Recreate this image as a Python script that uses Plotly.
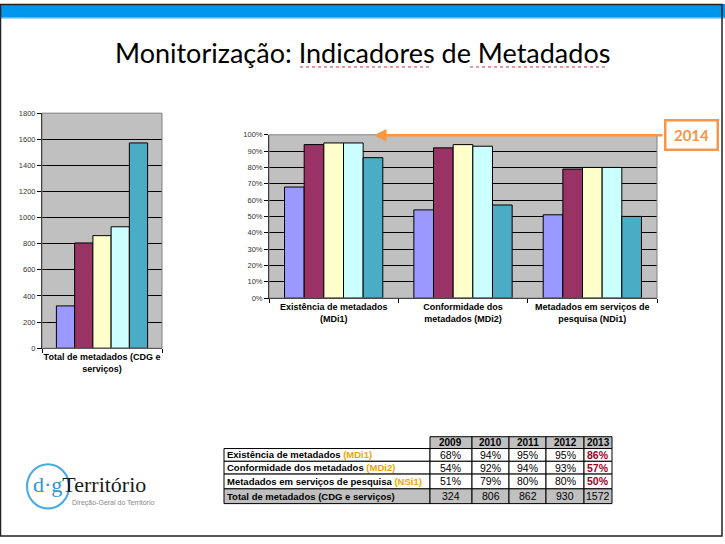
import plotly.graph_objects as go

W, H = 725, 544

years = ["2009", "2010", "2011", "2012", "2013"]
year_colors = ["#9999FF", "#993366", "#FFFFCC", "#CCFFFF", "#4BACC6"]

total_category = ["Total de metadados (CDG e<br>serviços)"]
total_values = [324, 806, 862, 930, 1572]

indicator_categories = [
    "Existência de metadados<br>(MDi1)",
    "Conformidade dos<br>metadados (MDi2)",
    "Metadados em serviços de<br>pesquisa (NDi1)",
]
indicator_values = {
    "2009": [68, 54, 51],
    "2010": [94, 92, 79],
    "2011": [95, 94, 80],
    "2012": [95, 93, 80],
    "2013": [86, 57, 50],
}

table_labels = [
    "Existência de metadados",
    "Conformidade dos metadados",
    "Metadados em serviços de pesquisa",
    "Total de metadados (CDG e serviços)",
]
table_codes = ["(MDi1)", "(MDi2)", "(NSi1)", ""]
table_values = {
    "2009": ["68%", "54%", "51%", "324"],
    "2010": ["94%", "92%", "79%", "806"],
    "2011": ["95%", "94%", "80%", "862"],
    "2012": ["95%", "93%", "80%", "930"],
    "2013": ["86%", "57%", "50%", "1572"],
}

ARIAL = "Liberation Sans, Arial, sans-serif"
ORANGE = "#F79646"

# table layout (pixels)
TABLE_X0, TABLE_Y0 = 224, 440
COL_W = [206, 42, 37, 37, 38, 28]
ROW_H = [12, 13, 13, 15, 15]


def px(x):
    return x / W


def py(y):
    return 1 - y / H


fig = go.Figure()

for i, yr in enumerate(years):
    fig.add_trace(go.Bar(
        x=total_category, y=[total_values[i]], name=yr,
        marker=dict(color=year_colors[i], line=dict(color="black", width=1)),
        xaxis="x", yaxis="y", showlegend=False, hoverinfo="skip"))
for i, yr in enumerate(years):
    fig.add_trace(go.Bar(
        x=indicator_categories, y=indicator_values[yr], name=yr,
        marker=dict(color=year_colors[i], line=dict(color="black", width=1)),
        xaxis="x2", yaxis="y2", showlegend=False, hoverinfo="skip"))

axis_common = dict(showline=True, linecolor="black", linewidth=1, ticks="outside",
                   ticklen=4, tickcolor="black", zeroline=False)

fig.update_layout(
    width=W, height=H,
    margin=dict(l=0, r=0, t=0, b=0),
    paper_bgcolor="white",
    plot_bgcolor="#C0C0C0",
    barmode="group", bargap=0.24, bargroupgap=0,
    showlegend=False,
    xaxis=dict(domain=[px(42), px(162)], anchor="y", tickson="boundaries", tickangle=0,
               tickfont=dict(family=ARIAL, size=9, color="black", weight="bold"),
               **axis_common),
    yaxis=dict(domain=[py(350), py(111)], anchor="x", range=[0, 1800], dtick=200,
               showgrid=True, gridcolor="black", gridwidth=1,
               tickfont=dict(family=ARIAL, size=7.5, color="#333333"), **axis_common),
    xaxis2=dict(domain=[px(269), px(657)], anchor="y2", tickson="boundaries", tickangle=0,
                tickfont=dict(family=ARIAL, size=9, color="black", weight="bold"),
                **axis_common),
    yaxis2=dict(domain=[py(299), py(133)], anchor="x2", range=[0, 100], dtick=10,
                ticksuffix="%", showgrid=True, gridcolor="black", gridwidth=1,
                tickfont=dict(family=ARIAL, size=7.5, color="#333333"), **axis_common),
)

shapes = [
    # top blue band
    dict(type="rect", xref="paper", yref="paper", x0=0, x1=1, y0=py(14), y1=1,
         fillcolor="#0096EC", line=dict(width=0), layer="below"),
    dict(type="line", xref="paper", yref="paper", x0=0, x1=1, y0=py(14.5), y1=py(14.5),
         line=dict(color="#8FCDF2", width=1)),
    # slide border
    dict(type="rect", xref="paper", yref="paper", x0=px(0.5), x1=px(722), y0=py(541), y1=py(0.5),
         line=dict(color="#222222", width=1.5)),
    # plot area borders
    dict(type="rect", xref="x domain", yref="y domain", x0=0, x1=1, y0=0, y1=1,
         line=dict(color="#808080", width=1)),
    dict(type="rect", xref="x2 domain", yref="y2 domain", x0=0, x1=1, y0=0, y1=1,
         line=dict(color="#808080", width=1)),
    # spell-check squiggles under title
    dict(type="line", xref="paper", yref="paper", x0=px(300), x1=px(432), y0=py(64), y1=py(64),
         line=dict(color="#D03030", width=1, dash="dot")),
    dict(type="line", xref="paper", yref="paper", x0=px(470), x1=px(606), y0=py(64), y1=py(64),
         line=dict(color="#D03030", width=1, dash="dot")),
    # logo circle
    dict(type="circle", xref="paper", yref="paper", x0=px(27), x1=px(69), y0=py(513), y1=py(468),
         line=dict(color="#45A9E2", width=2), fillcolor="white"),
]

annotations = [
    dict(text="Monitorização: Indicadores de Metadados", x=px(362), y=py(49),
         xref="paper", yref="paper", showarrow=False, xanchor="center", yanchor="middle",
         font=dict(family="Lato, Open Sans, sans-serif", size=27, color="black")),
    # orange arrow
    dict(text="", x=px(374), y=py(133.5), xref="paper", yref="paper",
         ax=290, ay=0, axref="pixel", ayref="pixel",
         showarrow=True, arrowhead=2, arrowsize=1, arrowwidth=2.5, arrowcolor=ORANGE),
    dict(text="<b>2014</b>", x=px(691), y=py(133), xref="paper", yref="paper",
         showarrow=False, xanchor="center", yanchor="middle", width=48, height=25,
         bordercolor=ORANGE, borderwidth=2.5, borderpad=1, bgcolor="white",
         font=dict(family="Lato, Open Sans, sans-serif", size=15, color=ORANGE)),
    # logo
    dict(text="<span style='color:#2F97D6'>d·g</span>Território", x=px(31), y=py(489),
         xref="paper", yref="paper", showarrow=False, xanchor="left", yanchor="middle",
         font=dict(family="Liberation Serif, DejaVu Serif, serif", size=22, color="#1A1A1A")),
    dict(text="Direção-Geral do Território", x=px(70), y=py(507), xref="paper", yref="paper",
         showarrow=False, xanchor="left", yanchor="middle",
         font=dict(family=ARIAL, size=7, color="#888888")),
]

# ---- data table built from the table arrays ----
col_x = [TABLE_X0]
for w in COL_W:
    col_x.append(col_x[-1] + w)
row_y = [TABLE_Y0]
for h in ROW_H:
    row_y.append(row_y[-1] + h)

header_row = [""] + years
body_rows = []
for r, (lab, code) in enumerate(zip(table_labels, table_codes)):
    row = [(lab, code)] + [table_values[yr][r] for yr in years]
    body_rows.append(row)

n_body = len(body_rows)
for c in range(1, len(COL_W)):
    shapes.append(dict(type="rect", xref="paper", yref="paper",
                       x0=px(col_x[c]), x1=px(col_x[c + 1]), y0=py(row_y[1]), y1=py(row_y[0]),
                       fillcolor="#C0C0C0", line=dict(color="black", width=1)))
    annotations.append(dict(text=f"<b>{header_row[c]}</b>", x=px((col_x[c] + col_x[c + 1]) / 2),
                            y=py((row_y[0] + row_y[1]) / 2), xref="paper", yref="paper",
                            showarrow=False, xanchor="center", yanchor="middle",
                            font=dict(family=ARIAL, size=10, color="black")))

for r, row in enumerate(body_rows):
    fill = "#C0C0C0" if r == n_body - 1 else "white"
    y0, y1 = row_y[r + 1], row_y[r + 2]
    for c in range(len(COL_W)):
        shapes.append(dict(type="rect", xref="paper", yref="paper",
                           x0=px(col_x[c]), x1=px(col_x[c + 1]), y0=py(y1), y1=py(y0),
                           fillcolor=fill, line=dict(color="black", width=1)))
        if c == 0:
            lab, code = row[0]
            txt = f"<b>{lab}</b>"
            if code:
                txt += f" <b><span style='color:#F5A300'>{code}</span></b>"
            annotations.append(dict(text=txt, x=px(col_x[0] + 1), y=py((y0 + y1) / 2),
                                    xref="paper", yref="paper", showarrow=False,
                                    xanchor="left", yanchor="middle",
                                    font=dict(family=ARIAL, size=9.5, color="black")))
        else:
            val = row[c]
            is_2013 = (c == len(COL_W) - 1) and r < n_body - 1
            txt = f"<b>{val}</b>" if is_2013 else val
            annotations.append(dict(text=txt, x=px((col_x[c] + col_x[c + 1]) / 2),
                                    y=py((y0 + y1) / 2), xref="paper", yref="paper",
                                    showarrow=False, xanchor="center", yanchor="middle",
                                    font=dict(family=ARIAL, size=10.5,
                                              color="#A0001E" if is_2013 else "black")))

fig.update_layout(shapes=shapes, annotations=annotations)

fig.write_html("out.html", post_script="document.body.style.margin='0';",
               config={"displayModeBar": False})
